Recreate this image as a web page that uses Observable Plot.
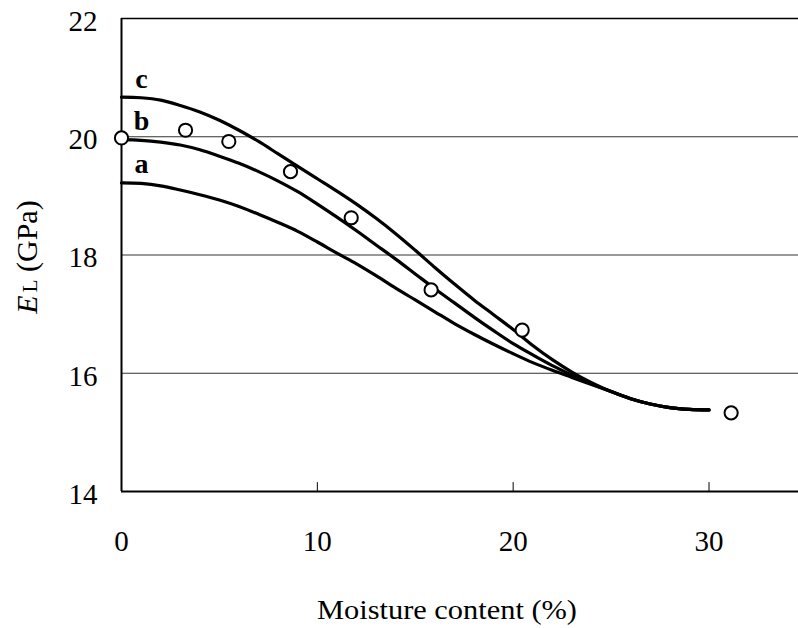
<!DOCTYPE html>
<html>
<head>
<meta charset="utf-8">
<script src="https://cdn.jsdelivr.net/npm/d3@7"></script>
<script src="https://cdn.jsdelivr.net/npm/@observablehq/plot@0.6"></script>
<style>
  html, body { margin: 0; padding: 0; background: #fff; }
  #chart svg { display: block; }
  #chart svg text { font-family: "Liberation Serif", "Times New Roman", Times, "DejaVu Serif", serif; }
</style>
</head>
<body>
<div id="chart"></div>
<script>
// Moisture content (%) sampled along the model curves
const curveX = [0,1,2,3,4,5,6,7,8,9,10,11,12,13,14,15,16,17,18,19,20,21,22,23,24,25,26,27,28,29,30];
// Longitudinal modulus E_L (GPa) for models a, b, c
const curveA = [19.22,19.21,19.17,19.10,19.02,18.93,18.82,18.69,18.55,18.40,18.22,18.03,17.85,17.65,17.44,17.24,17.04,16.84,16.66,16.49,16.33,16.18,16.05,15.93,15.81,15.69,15.57,15.48,15.42,15.39,15.38];
const curveB = [19.95,19.94,19.91,19.86,19.78,19.67,19.55,19.41,19.25,19.07,18.86,18.64,18.41,18.17,17.93,17.68,17.43,17.19,16.95,16.72,16.50,16.31,16.13,15.97,15.82,15.69,15.57,15.48,15.42,15.39,15.38];
const curveC = [20.67,20.66,20.62,20.53,20.42,20.28,20.11,19.92,19.71,19.50,19.29,19.08,18.86,18.62,18.36,18.08,17.79,17.51,17.24,16.99,16.74,16.47,16.23,16.02,15.84,15.69,15.57,15.48,15.42,15.39,15.38];
const curveNames = ["a", "b", "c"];

// Measured values
const measuredX = [0, 3.27, 5.48, 8.63, 11.73, 15.81, 20.46, 31.13];
const measuredY = [19.98, 20.11, 19.92, 19.41, 18.63, 17.41, 16.73, 15.33];

// Curve labels
const labelX = [1.02, 1.02, 1.02];
const labelY = [19.38, 20.11, 20.82];

const xTicks = [0, 10, 20, 30];
const yTicks = [14, 16, 18, 20, 22];
const gridY = [16, 18, 20];
const xTitle = "Moisture content (%)";

const serif = "Liberation Serif, Times New Roman, Times, DejaVu Serif, serif";

const lines = [];
[curveA, curveB, curveC].forEach((ys, k) => {
  ys.forEach((y, i) => lines.push({curve: curveNames[k], x: curveX[i], y}));
});
const points = measuredX.map((x, i) => ({x, y: measuredY[i]}));
const labels = curveNames.map((name, i) => ({name, x: labelX[i], y: labelY[i]}));

const chart = Plot.plot({
  width: 798,
  height: 628,
  marginLeft: 121,
  marginRight: 0,
  marginTop: 18,
  marginBottom: 137,
  style: {fontFamily: serif, background: "#fff", color: "#000"},
  x: {domain: [0, 34.57]},
  y: {domain: [14, 22]},
  marks: [
    Plot.ruleY(gridY, {stroke: "#333", strokeWidth: 1}),
    Plot.ruleY([22], {stroke: "#000", strokeWidth: 1.6}),
    Plot.ruleX(xTicks.slice(1), {y1: 14, y2: 14.15, stroke: "#000", strokeWidth: 1}),
    Plot.line(lines, {x: "x", y: "y", z: "curve", stroke: "#000", strokeWidth: 3.2, curve: "catmull-rom"}),
    Plot.ruleY([14], {stroke: "#000", strokeWidth: 2}),
    Plot.ruleX([0], {stroke: "#000", strokeWidth: 2}),
    Plot.dot(points, {x: "x", y: "y", r: 6.6, fill: "#fff", stroke: "#000", strokeWidth: 2}),
    Plot.text(labels, {x: "x", y: "y", text: "name", lineAnchor: "bottom", fontSize: 28, fontWeight: "bold", fill: "#000"}),
    Plot.axisX(xTicks, {tickSize: 0, tickPadding: 39, fontSize: 29, tickFormat: "d", label: null, fill: "#000"}),
    Plot.axisY(yTicks, {tickSize: 0, tickPadding: 24, fontSize: 29, dy: 3, tickFormat: "d", label: null, fill: "#000"})
  ]
});

const svg = d3.select(chart);

// x-axis title
svg.append("text")
  .attr("x", 447)
  .attr("y", 619)
  .attr("text-anchor", "middle")
  .attr("font-size", 28)
  .attr("textLength", 260)
  .attr("lengthAdjust", "spacingAndGlyphs")
  .attr("fill", "#000")
  .text(xTitle);

// y-axis title: italic E with L subscript
const yt = svg.append("text")
  .attr("transform", "translate(37,257) rotate(-90)")
  .attr("text-anchor", "middle")
  .attr("font-size", 30)
  .attr("fill", "#000");
yt.append("tspan").attr("font-style", "italic").text("E");
yt.append("tspan").attr("font-size", 21).attr("dx", 3).text("L");
yt.append("tspan").text(" (GPa)");

document.getElementById("chart").appendChild(chart);
</script>
</body>
</html>
